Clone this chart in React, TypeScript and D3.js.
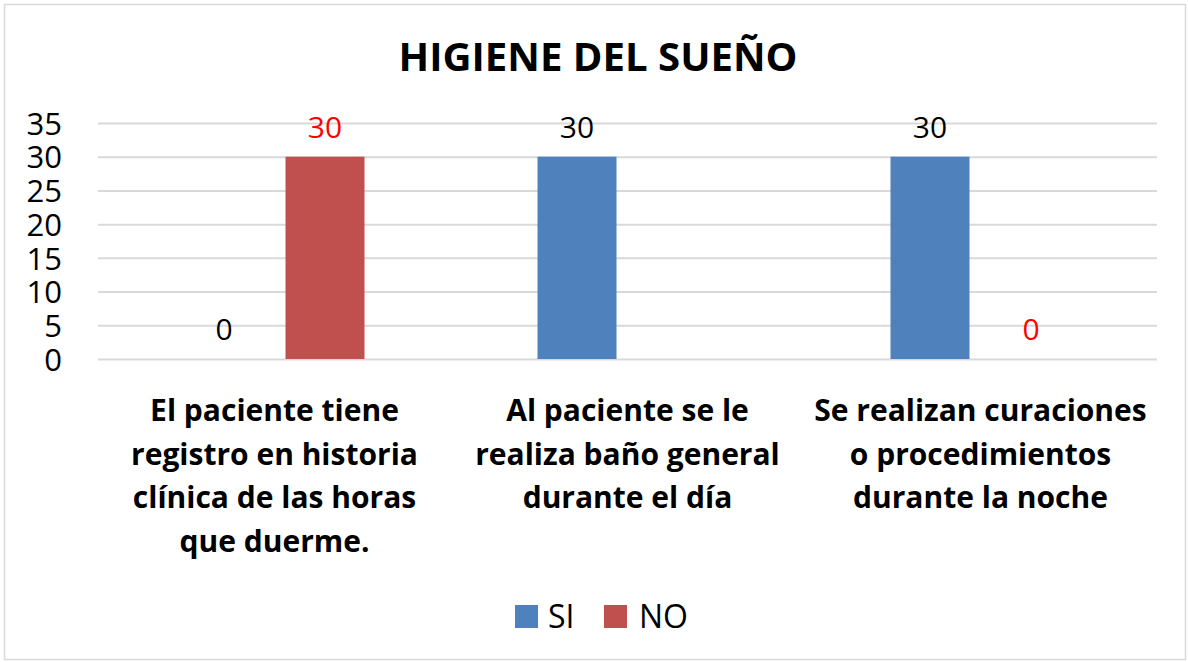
import React, { useEffect, useRef } from 'react';
import * as d3 from 'd3';

const WIDTH = 1188;
const HEIGHT = 662;
const PLOT = { left: 98, right: 1157, top: 123, bottom: 359 };
const FONT = "'Open Sans', 'Noto Sans', sans-serif";

const TITLE = 'HIGIENE DEL SUEÑO';
const CATEGORIES = [
    ['El paciente tiene', 'registro en historia', 'clínica de las horas', 'que duerme.'],
    ['Al paciente se le', 'realiza baño general', 'durante el día'],
    ['Se realizan curaciones', 'o procedimientos', 'durante la noche'],
];
const SERIES = ['SI', 'NO'];
const SI_VALUES = [0, 30, 30];
const NO_VALUES = [30, null, 0];
const Y_TICKS = [0, 5, 10, 15, 20, 25, 30, 35];
const COLORS = { SI: '#4F81BD', NO: '#C0504D' };
const LABEL_COLORS = { SI: '#000000', NO: '#FF0000' };

function App() {
    const ref = useRef(null);

    useEffect(() => {
        const svg = d3.select(ref.current);
        svg.selectAll('*').remove();

        const keys = CATEGORIES.map((_, i) => String(i));
        const x0 = d3.scaleBand().domain(keys).range([PLOT.left, PLOT.right]);
        const bw = x0.bandwidth();
        // two bars per group, 79px wide, centres 101px apart
        const x1 = d3.scaleBand().domain(SERIES)
            .range([bw / 2 - 101, bw / 2 + 101])
            .paddingInner(22 / 101)
            .paddingOuter(11 / 101);
        const y = d3.scaleLinear().domain([0, 35]).range([PLOT.bottom, PLOT.top]);

        // chart border
        svg.append('rect')
            .attr('x', 4.5).attr('y', 4.5)
            .attr('width', WIDTH - 7).attr('height', HEIGHT - 7)
            .attr('fill', '#fff').attr('stroke', '#D9D9D9').attr('stroke-width', 1.5);

        svg.append('text')
            .attr('x', 598).attr('y', 71)
            .attr('text-anchor', 'middle')
            .attr('font-family', FONT).attr('font-weight', 700).attr('font-size', 40)
            .attr('textLength', 399).attr('lengthAdjust', 'spacingAndGlyphs')
            .text(TITLE);

        // gridlines
        const yAxis = d3.axisLeft(y).tickValues(Y_TICKS)
            .tickSize(-(PLOT.right - PLOT.left)).tickPadding(36);
        const yg = svg.append('g').attr('transform', `translate(${PLOT.left},0)`).call(yAxis);
        yg.select('.domain').remove();
        yg.selectAll('.tick line').attr('stroke', '#D9D9D9').attr('stroke-width', 2);
        yg.selectAll('.tick text')
            .attr('font-family', FONT).attr('font-size', 31).attr('fill', '#000')
            .attr('dy', '0.36em');

        const data = SERIES.map((s) => ({
            key: s,
            values: s === 'SI' ? SI_VALUES : NO_VALUES,
        }));

        data.forEach((series) => {
            series.values.forEach((v, i) => {
                if (v === null) return;
                const bx = x0(String(i)) + x1(series.key);
                svg.append('rect')
                    .attr('x', bx).attr('y', y(v))
                    .attr('width', x1.bandwidth())
                    .attr('height', y(0) - y(v))
                    .attr('fill', COLORS[series.key]);
                svg.append('text')
                    .attr('x', bx + x1.bandwidth() / 2).attr('y', y(v) - 19)
                    .attr('text-anchor', 'middle')
                    .attr('font-family', FONT).attr('font-size', 30)
                    .attr('fill', LABEL_COLORS[series.key])
                    .text(v);
            });
        });

        // category labels
        CATEGORIES.forEach((lines, i) => {
            const cx = x0(String(i)) + bw / 2;
            const t = svg.append('text')
                .attr('text-anchor', 'middle')
                .attr('font-family', FONT).attr('font-weight', 700).attr('font-size', 30)
                .attr('fill', '#000');
            lines.forEach((line, j) => {
                t.append('tspan').attr('x', cx).attr('y', 421 + j * 43.5).text(line);
            });
        });

        // legend
        const legend = svg.append('g');
        const items = [
            { key: 'SI', x: 515, tx: 548 },
            { key: 'NO', x: 604, tx: 639 },
        ];
        items.forEach((it) => {
            legend.append('rect')
                .attr('x', it.x).attr('y', 605).attr('width', 23).attr('height', 23)
                .attr('fill', COLORS[it.key]);
            legend.append('text')
                .attr('x', it.tx).attr('y', 628)
                .attr('font-family', FONT).attr('font-size', 32).attr('fill', '#000')
                .text(it.key);
        });
    }, []);

    return (
        <svg
            ref={ref}
            width={WIDTH}
            height={HEIGHT}
            style={{ position: 'absolute', left: 0, top: 0, background: '#fff' }}
        />
    );
}

export default App;
